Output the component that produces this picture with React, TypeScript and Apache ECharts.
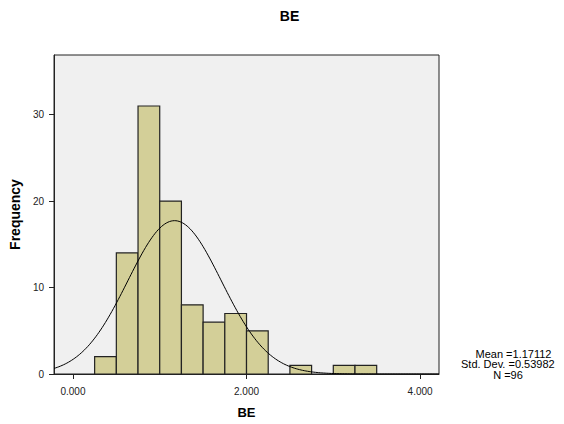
import React, { useEffect, useRef } from "react";
import * as echarts from "echarts";

const binStarts = [0.25, 0.5, 0.75, 1.0, 1.25, 1.5, 1.75, 2.0, 2.25, 2.5, 2.75, 3.0, 3.25];
const counts = [2, 14, 31, 20, 8, 6, 7, 5, 0, 1, 0, 1, 1];
const binWidth = 0.25;
const xTicks = [0, 2, 4];
const statMean = 1.17112;
const statSd = 0.53982;
const statN = 96;
const statLines = ["Mean =1.17112", "Std. Dev. =0.53982", "N =96"];

const X_MIN = -0.218;
const X_MAX = 4.218;
const FONT = "'Liberation Sans', Arial, Helvetica, sans-serif";

export default function App() {
  const ref = useRef<HTMLDivElement>(null);
  useEffect(() => {
    if (!ref.current) return;
    const chart = echarts.init(ref.current, undefined, { renderer: "svg" });
    const bars = binStarts
      .map((s, i) => [s, s + binWidth, counts[i]])
      .filter((d) => d[2] > 0);
    // fitted normal curve from the stated Mean / Std. Dev. / N
    const curve: number[][] = [];
    const steps = 240;
    const k = (statN * binWidth) / (statSd * Math.sqrt(2 * Math.PI));
    for (let i = 0; i <= steps; i++) {
      const x = X_MIN + ((X_MAX - X_MIN) * i) / steps;
      const z = (x - statMean) / statSd;
      curve.push([x, k * Math.exp(-0.5 * z * z)]);
    }
    const statPos = [
      { x: 513.5, align: "center" },
      { x: 461, align: "left" },
      { x: 508, align: "center" },
    ];
    chart.setOption({
      animation: false,
      textStyle: { fontFamily: FONT },
      grid: {
        left: 52,
        right: 125,
        top: 55,
        bottom: 47,
        show: true,
        backgroundColor: "#F0F0F0",
        borderColor: "#222",
        borderWidth: 1,
      },
      xAxis: {
        type: "value",
        min: X_MIN,
        max: X_MAX,
        name: "BE",
        nameLocation: "middle",
        nameGap: 32,
        nameTextStyle: { fontFamily: FONT, fontSize: 13, fontWeight: "bold", color: "#000" },
        axisLine: { show: true, onZero: false, lineStyle: { color: "#222", width: 1 } },
        axisTick: { show: true, length: 5, customValues: xTicks, lineStyle: { color: "#222" } },
        axisLabel: {
          customValues: xTicks,
          formatter: (v: number) => v.toFixed(3),
          fontSize: 10,
          color: "#222",
          margin: 12,
          fontFamily: FONT,
        },
        splitLine: { show: false },
      },
      yAxis: {
        type: "value",
        min: 0,
        max: 36.9,
        interval: 10,
        name: "Frequency",
        nameLocation: "middle",
        nameGap: 30,
        nameTextStyle: { fontFamily: FONT, fontSize: 14, fontWeight: "bold", color: "#000" },
        axisLine: { show: true, onZero: false, lineStyle: { color: "#222", width: 1 } },
        axisTick: { show: true, length: 5, lineStyle: { color: "#222" } },
        axisLabel: { fontSize: 10, color: "#222", margin: 10, fontFamily: FONT, showMaxLabel: false },
        splitLine: { show: false },
      },
      graphic: [
        {
          type: "text",
          x: 289.5,
          y: 16,
          style: {
            text: "BE",
            fill: "#000",
            font: `bold 14px ${FONT}`,
            textAlign: "center",
            textVerticalAlign: "middle",
          },
        },
        ...statLines.map((t, i) => ({
          type: "text",
          x: statPos[i].x,
          y: 353.5 + i * 10.8,
          style: {
            text: t,
            fill: "#000",
            font: `11px ${FONT}`,
            textAlign: statPos[i].align,
            textVerticalAlign: "middle",
          },
        })),
      ],
      series: [
        {
          type: "custom",
          data: bars,
          encode: { x: [0, 1], y: 2 },
          renderItem: (_p: any, api: any) => {
            const a = api.coord([api.value(0), api.value(2)]);
            const b = api.coord([api.value(1), 0]);
            return {
              type: "rect",
              shape: { x: a[0], y: a[1], width: b[0] - a[0], height: b[1] - a[1] },
              style: { fill: "#D3CF98", stroke: "#222", lineWidth: 1.2 },
            };
          },
          z: 2,
        },
        {
          type: "line",
          data: curve,
          showSymbol: false,
          smooth: false,
          lineStyle: { color: "#000", width: 1 },
          z: 3,
        },
      ],
    });
    return () => chart.dispose();
  }, []);
  return (
    <div
      ref={ref}
      style={{ position: "fixed", left: 0, top: 0, width: 564, height: 424, background: "#fff" }}
    />
  );
}
